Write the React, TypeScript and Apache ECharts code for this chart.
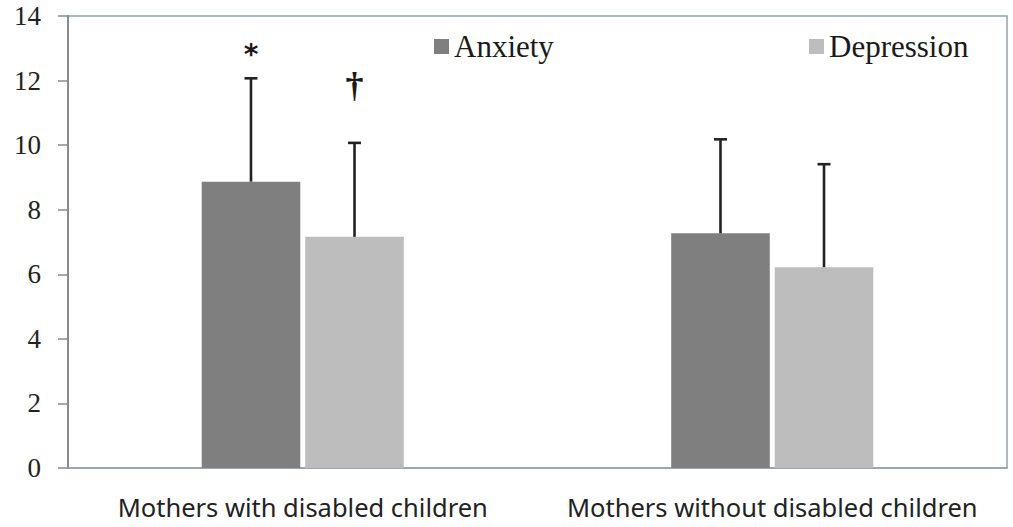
import React, { useEffect, useRef } from "react";
import * as echarts from "echarts";

const categories = ["Mothers with disabled children", "Mothers without disabled children"];
const anxietyMeans = [8.87, 7.27];
const anxietyUpper = [12.07, 10.18];
const depressionMeans = [7.16, 6.22];
const depressionUpper = [10.07, 9.41];
// annotations: [categoryIndex, yValue, symbol, seriesSide(-1 anxiety, 1 depression)]
const annotations: [number, number, string, number][] = [
  [0, 12.8, "*", -1],
  [0, 11.85, "†", 1],
];
const yTicks = { min: 0, max: 14, interval: 2 };

const BAR_W = 0.21;
const BAR_GAP = 0.05;

function barOffset(api: any, side: number) {
  const band = api.size([1, 0])[0];
  const w = band * BAR_W;
  return (side * (w + w * BAR_GAP)) / 2;
}

function errorSeries(means: number[], uppers: number[], side: number) {
  return {
    type: "custom",
    z: 5,
    silent: true,
    data: means.map((m, i) => [i, m, uppers[i]]),
    renderItem: (params: any, api: any) => {
      const off = barOffset(api, side);
      const bot = api.coord([api.value(0), api.value(1)]);
      const top = api.coord([api.value(0), api.value(2)]);
      const x = bot[0] + off;
      const style = { stroke: "#222222", lineWidth: 2.6 };
      return {
        type: "group",
        children: [
          { type: "line", shape: { x1: x, y1: bot[1], x2: x, y2: top[1] }, style },
          { type: "line", shape: { x1: x - 6.5, y1: top[1], x2: x + 6.5, y2: top[1] }, style },
        ],
      };
    },
  };
}

export default function App() {
  const ref = useRef<HTMLDivElement>(null);
  useEffect(() => {
    const chart = echarts.init(ref.current!, null, { renderer: "svg" });
    const legendBase = {
      top: 26,
      itemWidth: 15,
      itemHeight: 15,
      icon: "rect",
      textStyle: { fontFamily: "Liberation Serif", fontSize: 31, color: "#1a1a1a", padding: [0, 0, 0, 0] },
    };
    chart.setOption({
      animation: false,
      backgroundColor: "#ffffff",
      legend: [
        { ...legendBase, left: 429, data: ["Anxiety"] },
        { ...legendBase, left: 804, data: ["Depression"] },
      ],
      grid: {
        left: 68,
        right: 6,
        top: 16,
        bottom: 59,
        show: true,
        borderColor: "#8EA2B4",
        borderWidth: 1.5,
        backgroundColor: "transparent",
      },
      xAxis: {
        type: "category",
        data: categories,
        axisLine: { show: true, lineStyle: { color: "#8EA2B4", width: 1.5 } },
        axisTick: { show: false },
        axisLabel: { interval: 0, fontFamily: "Noto Sans", fontSize: 25.5, color: "#222222", margin: 26 },
      },
      yAxis: {
        type: "value",
        min: yTicks.min,
        max: yTicks.max,
        interval: yTicks.interval,
        splitLine: { show: false },
        axisLine: { show: true, lineStyle: { color: "#8a8a8a", width: 2 } },
        axisTick: { show: true, length: 10, lineStyle: { color: "#8a8a8a", width: 1.5 } },
        axisLabel: { fontFamily: "Liberation Serif", fontSize: 27, color: "#222222", margin: 27 },
      },
      series: [
        {
          name: "Anxiety",
          type: "bar",
          data: anxietyMeans,
          barWidth: BAR_W * 100 + "%",
          barGap: BAR_GAP * 100 + "%",
          itemStyle: { color: "#7f7f7f" },
        },
        {
          name: "Depression",
          type: "bar",
          data: depressionMeans,
          barWidth: BAR_W * 100 + "%",
          barGap: BAR_GAP * 100 + "%",
          itemStyle: { color: "#bdbdbd" },
        },
        errorSeries(anxietyMeans, anxietyUpper, -1),
        errorSeries(depressionMeans, depressionUpper, 1),
        {
          type: "custom",
          z: 6,
          silent: true,
          data: annotations.map((a) => [a[0], a[1], a[2], a[3]]),
          renderItem: (params: any, api: any) => {
            const a = annotations[params.dataIndex];
            const pt = api.coord([a[0], a[1]]);
            const off = barOffset(api, a[3]);
            const isDagger = a[2] === "†";
            return {
              type: "text",
              x: pt[0] + off,
              y: pt[1],
              style: {
                text: a[2],
                fill: "#1a1a1a",
                fontFamily: isDagger ? "Liberation Serif" : "DejaVu Sans",
                fontSize: isDagger ? 36 : 28,
                fontWeight: "bold",
                align: "center",
                verticalAlign: "middle",
              },
            };
          },
        },
      ],
    });
    return () => chart.dispose();
  }, []);
  return (
    <div
      ref={ref}
      style={{ position: "absolute", left: 0, top: 0, width: 1013, height: 527, background: "#fff" }}
    />
  );
}
